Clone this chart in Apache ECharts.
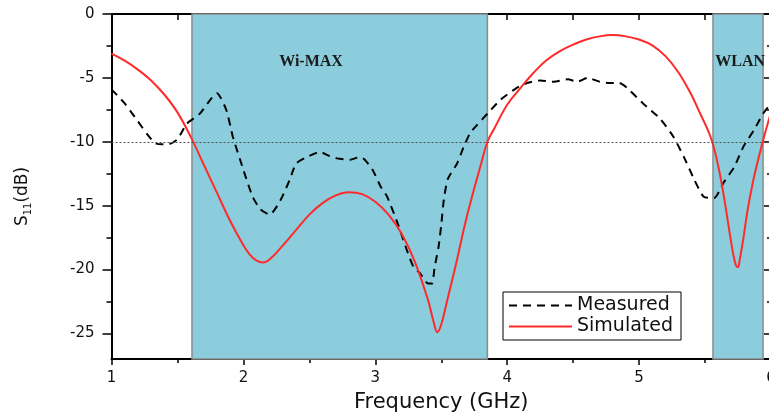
<!DOCTYPE html>
<html>
<head>
<meta charset="utf-8">
<script src="https://cdn.jsdelivr.net/npm/echarts@6/dist/echarts.min.js"></script>
<style>
  html, body { margin: 0; padding: 0; background: #fff; }
  #chart { width: 769px; height: 415px; }
</style>
</head>
<body>
<div id="chart"></div>
<script>
// Measured return loss (GHz, dB)
const freqMeasured = [1.00,1.10,1.20,1.27,1.33,1.38,1.43,1.50,1.57,1.67,1.75,1.80,1.87,1.92,2.00,2.07,2.13,2.20,2.28,2.35,
  2.40,2.50,2.58,2.65,2.71,2.81,2.88,2.92,2.98,3.04,3.09,3.17,3.24,3.29,3.34,3.40,3.43,3.45,3.48,3.50,
  3.52,3.55,3.62,3.67,3.72,3.77,3.85,3.95,4.07,4.15,4.25,4.35,4.46,4.53,4.61,4.70,4.78,4.85,4.91,5.03,
  5.16,5.26,5.34,5.42,5.49,5.57,5.64,5.72,5.79,5.87,5.94,6.00];
const s11Measured = [-5.9,-7.0,-8.4,-9.4,-10.1,-10.2,-10.2,-9.8,-8.6,-7.8,-6.7,-6.2,-7.5,-9.6,-12.2,-14.3,-15.3,-15.7,-14.6,-13.0,
  -11.7,-11.1,-10.8,-11.1,-11.3,-11.4,-11.2,-11.4,-12.2,-13.5,-14.3,-16.4,-18.5,-19.8,-20.3,-21.1,-21.1,-19.8,-18.2,-16.5,
  -14.5,-12.9,-11.7,-10.4,-9.3,-8.7,-7.8,-6.7,-5.8,-5.4,-5.2,-5.3,-5.1,-5.3,-5.0,-5.3,-5.4,-5.4,-5.8,-7.0,
  -8.2,-9.6,-11.2,-13.0,-14.3,-14.4,-13.2,-12.0,-10.4,-9.1,-7.8,-7.0];

// Simulated return loss (GHz, dB)
const freqSimulated = [1.0,1.1,1.2,1.3,1.4,1.5,1.6,1.7,1.8,1.9,2.0,2.05,2.1,2.15,2.2,2.3,2.4,2.5,2.6,2.7,2.8,2.9,3.0,3.1,3.2,3.3,3.4,
  3.44,3.47,3.5,3.55,3.6,3.7,3.8,3.85,3.9,4.0,4.1,4.2,4.3,4.4,4.5,4.6,4.7,4.8,4.9,5.0,5.1,5.2,5.3,5.4,5.45,5.5,
  5.53,5.56,5.6,5.64,5.68,5.71,5.735,5.75,5.76,5.79,5.82,5.86,5.9,5.95,6.0];
const s11Simulated = [-3.1,-3.65,-4.35,-5.2,-6.3,-7.7,-9.6,-11.8,-14.0,-16.2,-18.1,-18.85,-19.3,-19.45,-19.2,-18.1,-16.9,-15.7,-14.8,-14.2,-13.95,-14.1,-14.7,-15.7,-17.2,-19.4,-22.4,
  -24.0,-24.9,-24.3,-22.2,-20.1,-15.6,-11.8,-10.0,-9.0,-7.1,-5.8,-4.6,-3.6,-2.9,-2.4,-2.0,-1.75,-1.65,-1.75,-2.0,-2.45,-3.3,-4.6,-6.4,-7.5,-8.6,
  -9.3,-10.2,-11.9,-14.1,-16.7,-18.6,-19.7,-19.8,-19.4,-17.6,-15.5,-13.3,-11.5,-9.5,-7.7];

// Operating bands
const bandNames = ['Wi-MAX', 'WLAN'];
const bandStart = [1.61, 5.56];
const bandEnd = [3.85, 5.94];

// Axis ticks
const xRange = [1, 6];
const yRange = [-27, 0];
const yMajorTicks = [-25, -20, -15, -10, -5, 0];
const yMinorTicks = [-22.5, -17.5, -12.5, -7.5, -2.5];
const thresholdDb = -10;

const pairs = (xs, ys) => xs.map((x, i) => [x, ys[i]]);

const FONT = 'DejaVu Sans';
const INK = '#111';

const bandLabelPos = [[88, 49], [3, 49]];

const chart = echarts.init(document.getElementById('chart'), null, { renderer: 'canvas' });

const yBase = {
  type: 'value', min: yRange[0], max: yRange[1],
  splitLine: { show: false }
};

chart.setOption({
  backgroundColor: '#fff',
  animation: false,
  grid: { left: 111.5, right: -2, top: 14, bottom: 56, containLabel: false, outerBoundsMode: 'none' },
  legend: {
    orient: 'vertical', left: 503, top: 292,
    data: ['Measured', 'Simulated'],
    itemWidth: 63, itemHeight: 14, itemGap: 2,
    padding: [4, 8, 4, 5],
    borderColor: '#000', borderWidth: 1, borderRadius: 0,
    backgroundColor: '#fff',
    // line-only keys: hide the marker drawn on the legend line
    itemStyle: { color: 'transparent', borderColor: 'transparent', borderWidth: 0, opacity: 0 },
    textStyle: { fontFamily: FONT, fontSize: 19, color: INK }
  },
  xAxis: [
    {
      type: 'value', position: 'bottom', min: xRange[0], max: xRange[1], interval: 1,
      name: 'Frequency (GHz)', nameLocation: 'middle', nameGap: 33,
      nameTextStyle: { fontFamily: FONT, fontSize: 21, color: INK },
      axisLine: { show: true, onZero: false, lineStyle: { color: '#000', width: 2 } },
      axisTick: { show: true, inside: false, length: 6, lineStyle: { color: '#000', width: 1.5 } },
      minorTick: { show: true, splitNumber: 2, length: 4, lineStyle: { color: '#000', width: 1.5 } },
      axisLabel: { fontFamily: FONT, fontSize: 15, color: INK, margin: 12 },
      splitLine: { show: false }, minorSplitLine: { show: false }
    },
    {
      type: 'value', position: 'top', min: xRange[0], max: xRange[1], interval: 1,
      axisLine: { show: true, onZero: false, lineStyle: { color: '#000', width: 2 } },
      axisTick: { show: true, inside: true, length: 6, lineStyle: { color: '#000', width: 1.5 } },
      minorTick: { show: true, splitNumber: 2, length: 6, lineStyle: { color: '#000', width: 1.5 } },
      axisLabel: { show: false },
      splitLine: { show: false }, minorSplitLine: { show: false }
    }
  ],
  yAxis: [
    Object.assign({}, yBase, {
      position: 'left',
      name: '{a|S}{b|11}{a|(dB)}', nameLocation: 'middle', nameGap: 78,
      nameTextStyle: {
        fontFamily: FONT, color: INK,
        padding: [0, 20, 0, 0],
        rich: {
          a: { fontFamily: FONT, fontSize: 17, color: INK, lineHeight: 22, verticalAlign: 'middle' },
          b: { fontFamily: FONT, fontSize: 10, color: INK, lineHeight: 12, verticalAlign: 'bottom' }
        }
      },
      axisLine: { show: true, onZero: false, lineStyle: { color: '#000', width: 2 } },
      axisTick: { show: true, inside: false, length: 9, customValues: yMajorTicks, lineStyle: { color: '#000', width: 1.5 } },
      axisLabel: { fontFamily: FONT, fontSize: 15, color: INK, margin: 17, customValues: yMajorTicks }
    }),
    Object.assign({}, yBase, {
      position: 'left',
      axisLine: { show: false },
      axisTick: { show: true, inside: false, length: 5, customValues: yMinorTicks, lineStyle: { color: '#000', width: 1.5 } },
      axisLabel: { show: false }
    }),
    Object.assign({}, yBase, {
      position: 'right',
      axisLine: { show: true, onZero: false, lineStyle: { color: '#000', width: 2 } },
      axisTick: { show: true, inside: true, length: 7, customValues: yMajorTicks, lineStyle: { color: '#000', width: 1.5 } },
      axisLabel: { show: false }
    }),
    Object.assign({}, yBase, {
      position: 'right',
      axisLine: { show: false },
      axisTick: { show: true, inside: true, length: 4, customValues: yMinorTicks, lineStyle: { color: '#000', width: 1.5 } },
      axisLabel: { show: false }
    })
  ],
  series: [
    {
      // shaded frequency bands and the -10 dB reference
      name: 'bands', type: 'line', data: [], silent: true,
      markArea: {
        silent: true,
        itemStyle: { color: '#8bcddc', borderColor: '#8c8c8c', borderWidth: 1.5 },
        data: bandNames.map((name, i) => [
          {
            name, xAxis: bandStart[i],
            label: {
              show: true, position: bandLabelPos[i], align: 'left', verticalAlign: 'middle',
              fontFamily: 'Liberation Serif', fontWeight: 'bold', fontSize: 16, color: '#1a1a1a'
            }
          },
          { xAxis: bandEnd[i] }
        ])
      },
      markLine: {
        silent: true, symbol: 'none', label: { show: false },
        lineStyle: { color: '#555', width: 1, type: [2, 2] },
        data: [{ yAxis: thresholdDb }]
      }
    },
    {
      name: 'Measured', type: 'line', data: pairs(freqMeasured, s11Measured),
      symbol: 'none', smooth: 0.2,
      lineStyle: { color: '#000', width: 2, type: [8, 6] },
      itemStyle: { color: '#000' },
      z: 3
    },
    {
      name: 'Simulated', type: 'line', data: pairs(freqSimulated, s11Simulated),
      symbol: 'none', smooth: 0.4,
      lineStyle: { color: '#ff2a2a', width: 2 },
      itemStyle: { color: '#ff2a2a' },
      z: 4
    }
  ]
});
</script>
</body>
</html>
